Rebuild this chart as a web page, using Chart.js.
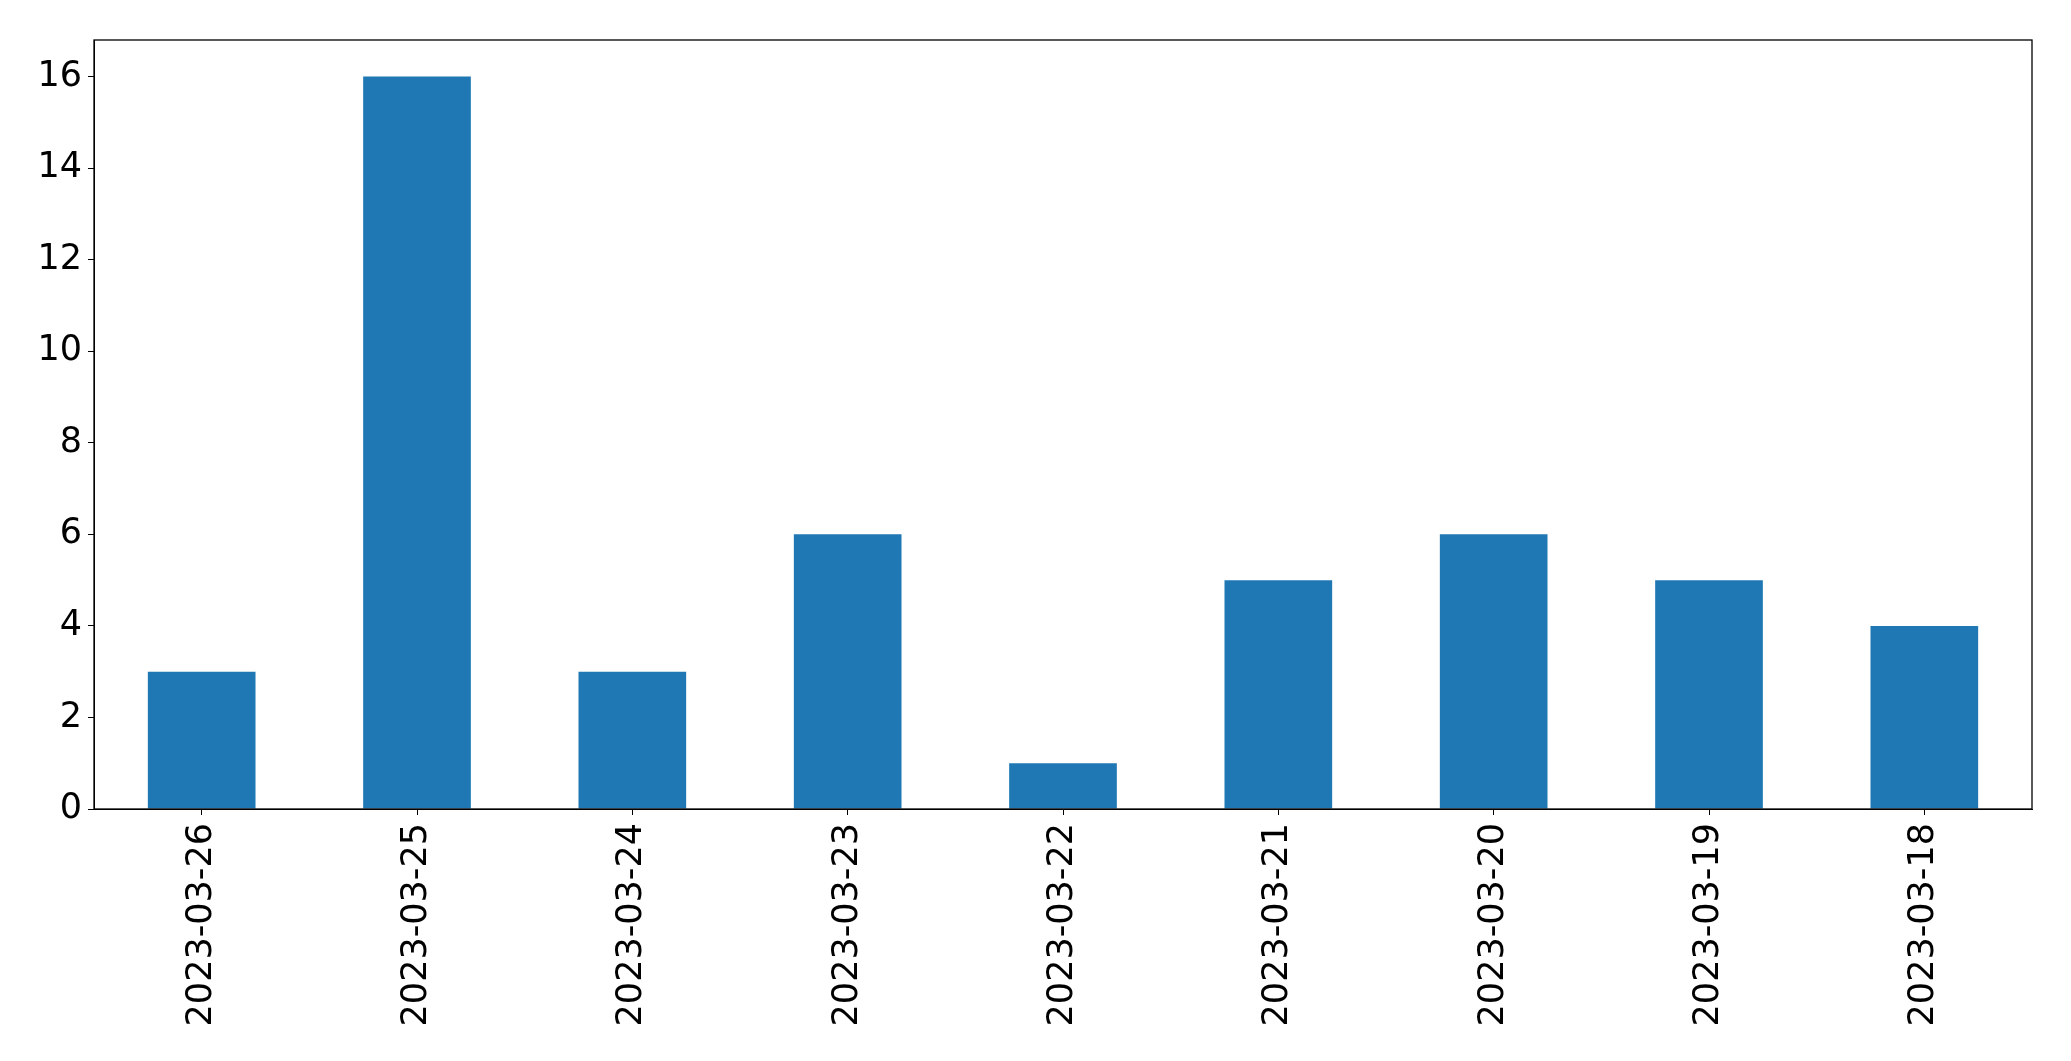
<!DOCTYPE html>
<html>
<head>
<meta charset="utf-8">
<script src="https://cdn.jsdelivr.net/npm/chart.js@4"></script>
<style>
  html, body { margin: 0; padding: 0; background: #fff; }
  #wrap { width: 2071px; height: 1061px; position: relative; }
</style>
</head>
<body>
<div id="wrap"><canvas id="chart"></canvas></div>
<script>
const dates = ['2023-03-26', '2023-03-25', '2023-03-24', '2023-03-23', '2023-03-22',
               '2023-03-21', '2023-03-20', '2023-03-19', '2023-03-18'];
const counts = [3, 16, 3, 6, 1, 5, 6, 5, 4];
const yTicks = [0, 2, 4, 6, 8, 10, 12, 14, 16];
const yMax = 16.8;

// draws the black frame round the plot area, like matplotlib's spines
const frame = {
    id: 'frame',
    afterDraw(chart) {
        const a = chart.chartArea;
        const ctx = chart.ctx;
        ctx.save();
        ctx.strokeStyle = '#000';
        ctx.lineWidth = 1.3;
        ctx.strokeRect(a.left, a.top, a.right - a.left, a.bottom - a.top);
        ctx.restore();
    }
};

const font = { family: 'DejaVu Sans', size: 35 };

new Chart(document.getElementById('chart'), {
    type: 'bar',
    data: {
        labels: dates,
        datasets: [{
            data: counts,
            backgroundColor: '#1f77b4',
            borderWidth: 0,
            categoryPercentage: 1.0,
            barPercentage: 0.5
        }]
    },
    options: {
        responsive: true,
        maintainAspectRatio: false,
        animation: false,
        layout: { padding: { top: 40, right: 39, left: 0, bottom: 0 } },
        plugins: { legend: { display: false }, tooltip: { enabled: false } },
        scales: {
            x: {
                grid: { drawOnChartArea: false, drawTicks: true, tickLength: 6, tickColor: '#000', offset: false },
                border: { display: true, color: '#000' },
                ticks: { color: '#000', font: font, minRotation: 90, maxRotation: 90, padding: 8 },
                afterFit(axis) { axis.height = 252; }
            },
            y: {
                min: 0,
                max: yMax,
                grid: { drawOnChartArea: false, drawTicks: true, tickLength: 6, tickColor: '#000' },
                border: { display: true, color: '#000' },
                ticks: { color: '#000', font: font, padding: 6, autoSkip: false },
                afterBuildTicks(axis) {
                    axis.ticks = yTicks.map(v => ({ value: v }));
                },
                afterFit(axis) { axis.width = 94; }
            }
        }
    },
    plugins: [frame]
});
</script>
</body>
</html>
